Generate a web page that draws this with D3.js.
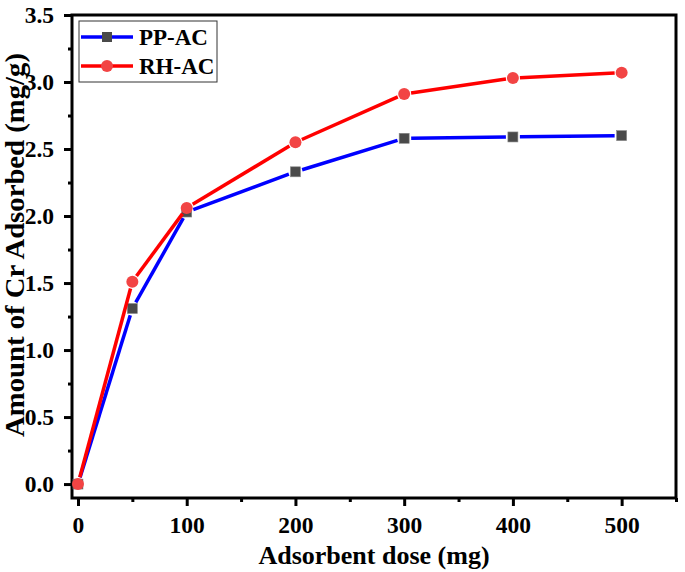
<!DOCTYPE html>
<html><head><meta charset="utf-8">
<script src="https://cdn.jsdelivr.net/npm/d3@7"></script>
<style>body{margin:0;background:#fff}svg{display:block}text{font-family:"Liberation Serif","Times New Roman",serif;font-weight:bold}</style>
</head><body>
<script>
const doses = [0, 50, 100, 200, 300, 400, 500];
const ppAC = [0, 1.31, 2.03, 2.33, 2.58, 2.59, 2.60];
const rhAC = [0, 1.51, 2.06, 2.55, 2.91, 3.03, 3.07];
const seriesNames = ["PP-AC", "RH-AC"];
const xTicks = [0, 100, 200, 300, 400, 500];
const yTicks = [0, 0.5, 1.0, 1.5, 2.0, 2.5, 3.0, 3.5];

const W = 685, H = 572;
const m = {l:72, r:9, t:15, b:74};
const svg = d3.select("body").append("svg").attr("width", W).attr("height", H);
const x = d3.scaleLinear().domain([-5.5, 550]).range([m.l, W - m.r]);
const y = d3.scaleLinear().domain([-0.104, 3.5]).range([H - m.b, m.t]);

const xAxis = d3.axisBottom(x).tickValues(xTicks).tickFormat(d3.format("d")).tickSize(8).tickPadding(10);
const xMinor = d3.axisBottom(x).tickValues([50,150,250,350,450,550]).tickFormat("").tickSize(4);
const yAxis = d3.axisLeft(y).tickValues(yTicks).tickFormat(d3.format(".1f")).tickSize(8).tickPadding(10);
const yMinor = d3.axisLeft(y).tickValues([0.25,0.75,1.25,1.75,2.25,2.75,3.25]).tickFormat("").tickSize(4);

function style(g){
  g.select(".domain").remove();
  g.selectAll("line").attr("stroke","#000").attr("stroke-width",3);
  g.selectAll("text").attr("font-size",23.5).attr("fill","#000");
}
svg.append("g").attr("transform",`translate(0,${H-m.b})`).call(xAxis).call(style);
svg.append("g").attr("transform",`translate(0,${H-m.b})`).call(xMinor).call(style);
svg.append("g").attr("transform",`translate(${m.l},0)`).call(yAxis).call(style);
svg.append("g").attr("transform",`translate(${m.l},0)`).call(yMinor).call(style);

svg.append("rect").attr("x",m.l).attr("y",m.t).attr("width",W-m.r-m.l).attr("height",H-m.b-m.t)
  .attr("fill","none").attr("stroke","#000").attr("stroke-width",3);

svg.append("text").attr("x",(m.l+W-m.r)/2).attr("y",564).attr("text-anchor","middle")
  .attr("font-size",26).text("Adsorbent dose (mg)");
svg.append("text").attr("transform",`translate(24,245) rotate(-90)`).attr("text-anchor","middle")
  .attr("font-size",26.5).attr("textLength",384).attr("lengthAdjust","spacingAndGlyphs")
  .text("Amount of Cr Adsorbed (mg/g)");

const series = [
  {name: seriesNames[0], vals: ppAC, line:"#0000ff", fill:"#4a4a4a", shape:"square"},
  {name: seriesNames[1], vals: rhAC, line:"#ff0000", fill:"#f24444", shape:"circle"}
];
const gap = 7;
series.forEach(s=>{
  const pts = doses.map((d,i)=>[x(d), y(s.vals[i])]);
  const g = svg.append("g");
  for(let i=0;i<pts.length-1;i++){
    const [x1,y1]=pts[i],[x2,y2]=pts[i+1];
    const L=Math.hypot(x2-x1,y2-y1); const ux=(x2-x1)/L, uy=(y2-y1)/L;
    g.append("line").attr("x1",x1+ux*gap).attr("y1",y1+uy*gap).attr("x2",x2-ux*gap).attr("y2",y2-uy*gap)
      .attr("stroke",s.line).attr("stroke-width",3.5);
  }
  pts.forEach(p=>{
    if(s.shape==="square") g.append("rect").attr("x",p[0]-5).attr("y",p[1]-5).attr("width",10).attr("height",10)
      .attr("fill",s.fill).attr("stroke","#888").attr("stroke-width",0.6);
    else g.append("circle").attr("cx",p[0]).attr("cy",p[1]).attr("r",6).attr("fill",s.fill);
  });
});

const lg = svg.append("g");
lg.append("rect").attr("x",79).attr("y",21).attr("width",138).attr("height",61)
  .attr("fill","#fff").attr("stroke","#333").attr("stroke-width",1);
series.forEach((s,i)=>{
  const cy = 37 + i*29;
  lg.append("line").attr("x1",81).attr("x2",133).attr("y1",cy).attr("y2",cy).attr("stroke",s.line).attr("stroke-width",3.5);
  if(s.shape==="square") lg.append("rect").attr("x",102).attr("y",cy-5).attr("width",10).attr("height",10).attr("fill",s.fill);
  else lg.append("circle").attr("cx",107).attr("cy",cy).attr("r",6).attr("fill",s.fill);
  lg.append("text").attr("x",139).attr("y",cy+8).attr("font-size",23).text(s.name);
});
</script>
</body></html>
